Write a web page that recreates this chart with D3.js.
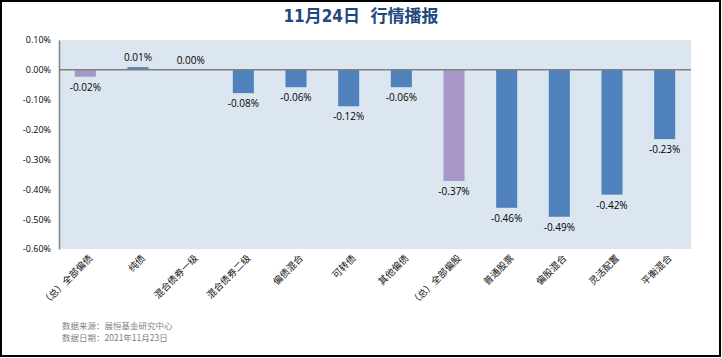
<!DOCTYPE html>
<html><head><meta charset="utf-8">
<script src="https://cdn.jsdelivr.net/npm/d3@7/dist/d3.min.js"></script>
<style>html,body{margin:0;padding:0;background:#fff;}svg{display:block;}</style>
</head><body>
<script>
const categories = ["（总）全部偏债","纯债","混合债券一级","混合债券二级","偏债混合","可转债","其他偏债","（总）全部偏股","普通股票","偏股混合","灵活配置","平衡混合"];
const values = [-0.02, 0.01, 0.00, -0.08, -0.06, -0.12, -0.06, -0.37, -0.46, -0.49, -0.42, -0.23];
const barLengths = [-0.023, 0.009, 0.0, -0.078, -0.058, -0.122, -0.058, -0.372, -0.462, -0.492, -0.418, -0.232];
const groups = ["总","子","子","子","子","子","子","总","子","子","子","子"];
const yTicks = [0.10, 0.00, -0.10, -0.20, -0.30, -0.40, -0.50, -0.60];
const title = "11月24日\u00A0\u00A0行情播报";
const notes = ["数据来源：展恒基金研究中心", "数据日期：2021年11月23日"];

const W = 722, H = 358;
const fmt = d3.formatLocale({decimal:".", thousands:",", grouping:[3], currency:["",""], minus:"-"}).format(".2f");
const svg = d3.select("body").append("svg").attr("width", W).attr("height", H);
svg.append("rect").attr("x",1).attr("y",1).attr("width",W-3).attr("height",H-3)
  .attr("fill","#fff").attr("stroke","#000").attr("stroke-width",2);

const plot = {l:59, r:691, t:40, b:249};
const x = d3.scaleBand().domain(categories).range([plot.l, plot.r]).paddingInner(0.6).paddingOuter(0.3);
const y = d3.scaleLinear().domain([0.10, -0.60]).range([plot.t, plot.b]);

svg.append("rect").attr("x",plot.l).attr("y",plot.t).attr("width",plot.r-plot.l).attr("height",plot.b-plot.t).attr("fill","#DCE6F1");

svg.append("text").attr("x", W/2).attr("y", 22).attr("text-anchor","middle")
  .attr("font-family","'Liberation Sans Narrow','DejaVu Sans Condensed','Noto Sans CJK SC',sans-serif")
  .attr("font-weight","bold").attr("font-size",17).attr("fill","#1F497D").text(title);

const yAxis = d3.axisLeft(y).tickValues(yTicks).tickSize(0).tickPadding(8).tickFormat(d => fmt(d) + "%");
const ya = svg.append("g").attr("transform",`translate(${plot.l},0)`).call(yAxis);
ya.select(".domain").attr("stroke","#808080").attr("stroke-width",1.5);
ya.selectAll("text").attr("font-family","'Open Sans','Liberation Sans',sans-serif").attr("font-size",9).attr("fill","#000");

const color = g => g === "总" ? "#A697C6" : "#4F81BD";
svg.selectAll("rect.bar").data(categories).enter().append("rect").attr("class","bar")
  .attr("x", c => x(c))
  .attr("width", x.bandwidth())
  .attr("y", (c,i) => y(Math.max(0, barLengths[i])))
  .attr("height", (c,i) => Math.abs(y(barLengths[i]) - y(0)))
  .attr("fill", (c,i) => color(groups[i]));

svg.append("line").attr("x1",plot.l).attr("x2",plot.r).attr("y1",y(0)).attr("y2",y(0)).attr("stroke","#808080").attr("stroke-width",1.5);

svg.selectAll("text.lbl").data(categories).enter().append("text").attr("class","lbl")
  .attr("x", c => x(c) + x.bandwidth()/2)
  .attr("y", (c,i) => barLengths[i] >= 0 ? y(barLengths[i]) - 6 : y(barLengths[i]) + 14)
  .attr("text-anchor","middle")
  .attr("font-family","'Open Sans','Liberation Sans',sans-serif").attr("font-size",10).attr("fill","#000")
  .text((c,i) => fmt(values[i]) + "%");

svg.selectAll("text.cat").data(categories).enter().append("text").attr("class","cat")
  .attr("transform", c => `translate(${x(c) + x.bandwidth()/2 + 6},${plot.b + 8}) rotate(-45)`)
  .attr("text-anchor","end").attr("dominant-baseline","middle")
  .attr("font-family","'Noto Sans CJK SC',sans-serif").attr("font-size",9.5).attr("fill","#111")
  .text(c => c);

svg.selectAll("text.note").data(notes).enter().append("text").attr("class","note")
  .attr("x", 62).attr("y", (d,i) => 329 + i*12)
  .attr("font-family","'Noto Sans CJK SC',sans-serif").attr("font-size",8.5).attr("fill","#7F7F7F")
  .text(d => d);
</script>
</body></html>
